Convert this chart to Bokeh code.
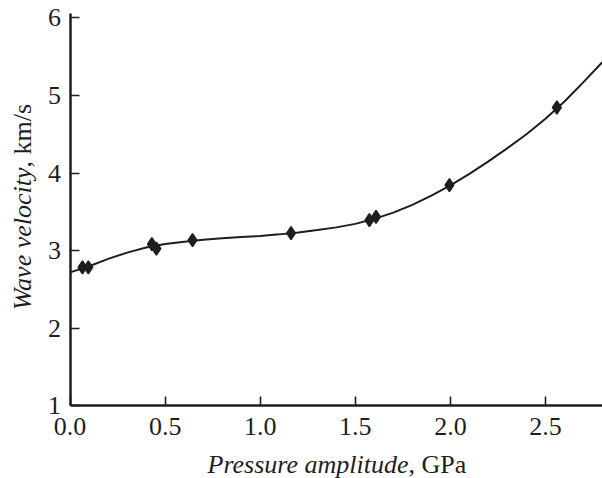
import math
from bokeh.plotting import figure
from bokeh.models import Range1d, FixedTicker, PrintfTickFormatter, Label
from bokeh.embed import file_html
from bokeh.resources import INLINE

# Measured points (pressure amplitude GPa, wave velocity km/s)
pressure = [0.065, 0.096, 0.43, 0.454, 0.644, 1.162, 1.574, 1.609, 1.995, 2.56]
velocity = [2.785, 2.785, 3.084, 3.027, 3.135, 3.226, 3.393, 3.436, 3.844, 4.844]

# Fitted curve
curve_x = [0.0, 0.1, 0.2, 0.3, 0.4, 0.5, 0.6, 0.7, 0.8, 0.9, 1.0, 1.1, 1.2, 1.3, 1.4,
           1.5, 1.6, 1.7, 1.8, 1.9, 2.0, 2.1, 2.2, 2.3, 2.4, 2.5, 2.6, 2.7, 2.8]
curve_y = [2.72, 2.80, 2.895, 2.975, 3.04, 3.085, 3.115, 3.14, 3.16, 3.175, 3.19, 3.21,
           3.235, 3.265, 3.30, 3.345, 3.41, 3.49, 3.59, 3.71, 3.84, 3.99, 4.15, 4.32,
           4.50, 4.70, 4.92, 5.17, 5.43]

x_ticks = [0.0, 0.5, 1.0, 1.5, 2.0, 2.5]
y_ticks = [1, 2, 3, 4, 5, 6]
x_lim = (0.0, 2.8)
y_lim = (1.0, 6.055)

INK = "#1e1e1e"
FONT = "Liberation Serif"

# The frame fills the whole canvas; axes are pinned at x=0 / y=1 so that the
# axis titles (mixed italic/roman) can be drawn as labels inside the frame.
p = figure(width=602, height=478, output_backend="svg", toolbar_location=None,
           x_range=Range1d(-0.366, 2.8), y_range=Range1d(0.0664, 6.2215),
           min_border_left=0, min_border_right=0, min_border_top=0, min_border_bottom=0)
p.outline_line_color = None
p.grid.visible = False
p.background_fill_color = "white"
p.border_fill_color = "white"

for ax in (p.xaxis[0], p.yaxis[0]):
    ax.axis_line_color = INK
    ax.axis_line_width = 2.5
    ax.major_tick_line_color = INK
    ax.major_tick_line_width = 1.6
    ax.major_tick_in = 9
    ax.major_tick_out = 0
    ax.minor_tick_line_color = None
    ax.major_label_text_font = FONT
    ax.major_label_text_font_size = "26px"
    ax.major_label_text_color = INK

p.xaxis[0].major_label_standoff = 12
p.yaxis[0].major_label_standoff = 9

p.xaxis[0].ticker = FixedTicker(ticks=x_ticks)
p.xaxis[0].formatter = PrintfTickFormatter(format="%.1f")
p.xaxis[0].bounds = x_lim
p.xaxis[0].fixed_location = y_lim[0]
p.yaxis[0].ticker = FixedTicker(ticks=y_ticks)
p.yaxis[0].formatter = PrintfTickFormatter(format="%d")
p.yaxis[0].bounds = y_lim
p.yaxis[0].fixed_location = x_lim[0]

p.line(curve_x, curve_y, line_color=INK, line_width=2)
p.scatter(pressure, velocity, marker="diamond", size=13, fill_color=INK,
          line_color=INK, line_width=1.5)

# Axis titles: italic quantity + roman unit
p.add_layout(Label(x=408, y=14, x_units="screen", y_units="screen",
                   text="Pressure amplitude", text_font=FONT, text_font_style="italic",
                   text_font_size="26px", text_color=INK, text_align="right",
                   text_baseline="alphabetic"))
p.add_layout(Label(x=408, y=14, x_units="screen", y_units="screen",
                   text=", GPa", text_font=FONT, text_font_size="26px", text_color=INK,
                   text_align="left", text_baseline="alphabetic"))
p.add_layout(Label(x=22, y=311, x_units="screen", y_units="screen", angle=math.pi / 2,
                   text="Wave velocity", text_font=FONT, text_font_style="italic",
                   text_font_size="26px", text_color=INK, text_align="right",
                   text_baseline="alphabetic"))
p.add_layout(Label(x=22, y=311, x_units="screen", y_units="screen", angle=math.pi / 2,
                   text=", km/s", text_font=FONT, text_font_size="26px", text_color=INK,
                   text_align="left", text_baseline="alphabetic"))

open("out.html", "w").write(file_html(p, INLINE))
